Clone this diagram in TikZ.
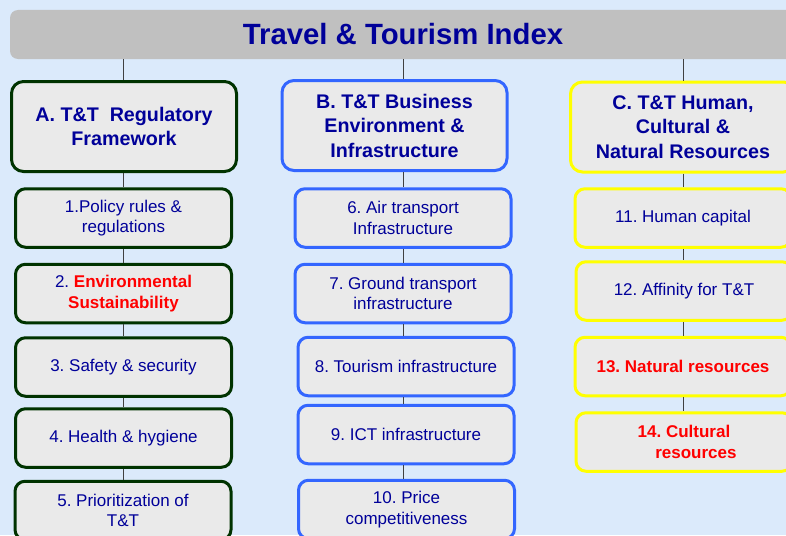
\documentclass[tikz,border=0pt]{standalone}
\usepackage{fontspec}
\setmainfont{Liberation Sans}
\frenchspacing
\definecolor{bgblue}{RGB}{219,234,251}
\definecolor{titlegray}{RGB}{192,192,192}
\definecolor{boxgray}{RGB}{234,234,234}
\definecolor{txtnavy}{RGB}{0,0,153}
\definecolor{edgegreen}{RGB}{0,51,0}
\definecolor{edgeblue}{RGB}{51,102,255}
\definecolor{edgeyellow}{RGB}{255,255,0}
\begin{document}
\begin{tikzpicture}[x=1pt, y=-1pt,
	head/.style = {draw, fill=boxgray, line width=3pt, rounded corners=12pt, minimum width=225pt, minimum height=90pt, align=center, text=txtnavy, font=\fontsize{19.7}{24.5}\selectfont\bfseries},
	item/.style = {draw, fill=boxgray, line width=3pt, rounded corners=10pt, minimum width=216pt, minimum height=58.5pt, align=center, text=txtnavy, font=\fontsize{17}{20.5}\selectfont},
	hot/.style = {text=red, font=\fontsize{17}{20.5}\selectfont\bfseries},
	link/.style = {draw=black!75, line width=1pt}]
	\useasboundingbox (0,0) rectangle (786,535);
	\clip (0,0) rectangle (786,535);
	\fill[bgblue] (0,0) rectangle (786,535);
	\node[fill=titlegray, rounded corners=8pt, minimum width=786pt, minimum height=49pt, text=txtnavy, font=\fontsize{29.3}{34}\selectfont\bfseries] (title) at (403,34.5) {Travel \& Tourism Index};
	\node[head, draw=edgegreen] (A) at (124,126.5) {A. T\&T\ \ Regulatory\\Framework};
	\node[head, draw=edgeblue] (B) at (394.5,125.5) {B. T\&T Business\\Environment \&\\Infrastructure};
	\node[head, draw=edgeyellow] (C) at (683,127) {C. T\&T Human,\\Cultural \&\\Natural Resources};
	\node[item, draw=edgegreen] (a1) at (123.5,218) {1.Policy rules \&\\regulations};
	\node[item, draw=edgegreen] (a2) at (123.5,293.5) {2. \textcolor{red}{\bfseries Environmental}\\\textcolor{red}{\bfseries Sustainability}};
	\node[item, draw=edgegreen] (a3) at (123.5,367) {3. Safety \& security};
	\node[item, draw=edgegreen] (a4) at (123.5,438) {4. Health \& hygiene};
	\node[item, draw=edgegreen] (a5) at (123,510.5) {5. Prioritization of\\T\&T};
	\node[item, draw=edgeblue] (b6) at (403,218) {6. Air transport\\Infrastructure};
	\node[item, draw=edgeblue] (b7) at (403,293.5) {7. Ground transport\\infrastructure};
	\node[item, draw=edgeblue] (b8) at (406,366.5) {8. Tourism infrastructure};
	\node[item, draw=edgeblue] (b9) at (406,434.5) {9. ICT infrastructure};
	\node[item, draw=edgeblue] (b10) at (406.5,509.5) {10. Price\\competitiveness};
	\node[item, draw=edgeyellow] (c11) at (683,218) {11. Human capital};
	\node[item, draw=edgeyellow] (c12) at (684,291) {12. Affinity for T\&T};
	\node[item, draw=edgeyellow, hot] (c13) at (683,366.5) {13. Natural resources};
	\node[item, draw=edgeyellow, hot] (c14) at (684,442) {14. Cultural\\\hspace*{1.4em}resources};
	\foreach \u/\v in {title/A, A/a1, a1/a2, a2/a3, a3/a4, a4/a5}
		\draw[link] (\u.south -| a1) -- (\v.north -| a1);
	\foreach \u/\v in {title/B, B/b6, b6/b7, b7/b8, b8/b9, b9/b10}
		\draw[link] (\u.south -| b6) -- (\v.north -| b6);
	\foreach \u/\v in {title/C, C/c11, c11/c12, c12/c13, c13/c14}
		\draw[link] (\u.south -| c11) -- (\v.north -| c11);
\end{tikzpicture}
\end{document}
